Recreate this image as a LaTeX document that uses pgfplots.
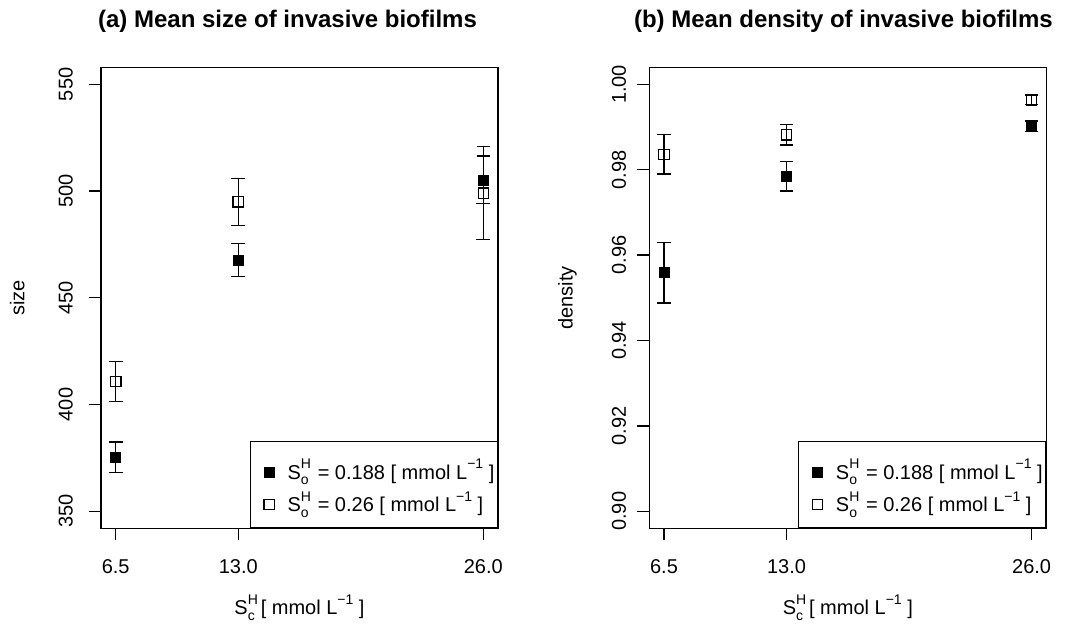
\documentclass[border=0pt]{standalone}
\usepackage{fontspec}
\setmainfont{Liberation Sans}
\usepackage{pgfplots}
\pgfplotsset{compat=1.18}

\newcommand{\sps}[1]{{\fontsize{7}{8}\selectfont #1}}
\newcommand{\SHx}[1]{S\rlap{\raisebox{5.3pt}{\sps{H}}}\raisebox{-2.8pt}{\sps{#1}}}
\newcommand{\Linv}{L\raisebox{5.3pt}{\sps{−1}}}

\pgfplotsset{
  rstyle/.style={
    scale only axis, width=198.5pt, height=230.5pt,
    axis line style={line width=0.65pt, black},
    tick align=outside, tick pos=left, major tick length=6pt,
    tick style={line width=0.65pt, black},
    xmin=5.72, xmax=26.78, xtick={6.5,13,26}, xticklabels={6.5,13.0,26.0},
    ticklabel style={font=\fontsize{10}{12}\selectfont},
    xticklabel style={anchor=base}, xticklabel shift=16.5pt,
    yticklabel style={rotate=90, anchor=base},
    xlabel style={at={(axis description cs:0.5,0)}, anchor=base, yshift=-43.3pt, font=\fontsize{10}{12}\selectfont},
    ylabel style={at={(axis description cs:-0.193,0.5)}, anchor=base, font=\fontsize{10}{12}\selectfont},
    title style={at={(axis description cs:0.5,1)}, anchor=base, yshift=14pt, font=\bfseries\fontsize{12}{14}\selectfont},
    legend style={at={(1,0)}, anchor=south east, draw=black, line width=0.65pt, fill=white,
      inner xsep=1.5pt, inner ysep=2pt, row sep=0pt, column sep=6.6pt,
      font=\fontsize{10}{12}\selectfont,
      nodes={inner sep=0pt, anchor=base west, text depth=6pt}},
    legend image code/.code={\path (0pt,0pt); \draw[##1] plot coordinates {(7.7pt,3.6pt)};},
    filled/.style={only marks, mark=square*, mark size=2.5pt, mark options={fill=black, draw=black, line width=0.3pt},
      error bars/.cd, y dir=both, y explicit,
      error bar style={line width=0.6pt, black},
      error mark options={rotate=90, mark size=3.4pt, line width=0.6pt, black}},
    open/.style={only marks, mark=square, mark size=2.6pt, mark options={draw=black, line width=0.6pt},
      error bars/.cd, y dir=both, y explicit,
      error bar style={line width=0.6pt, black},
      error mark options={rotate=90, mark size=3.4pt, line width=0.6pt, black}},
  }
}

\begin{document}
\begin{tikzpicture}
\path[use as bounding box] (0pt,0pt) rectangle (534pt,312pt);

\begin{axis}[rstyle, at={(50.5pt,47.85pt)}, anchor=south west,
  ymin=342, ymax=558, ytick={350,400,450,500,550}, yticklabels={350,400,450,500,550},
  yticklabel shift=8.2pt,
  title={(a) Mean size of invasive biofilms}, title style={xshift=-6pt},
  xlabel={\SHx{c}\hspace{3pt}[ mmol \Linv\ ]}, ylabel={size}]
\addplot[filled] coordinates {
  (6.5,375.3) +- (0,7.1)
  (13,467.7) +- (0,7.8)
  (26,505.2) +- (0,11.2)
};
\addlegendentry[text height=16.9pt]{\SHx{o}\hspace{4.5pt}= 0.188 [ mmol \Linv\ ]}
\addplot[open] coordinates {
  (6.5,410.7) +- (0,9.3)
  (13,495.0) +- (0,11.0)
  (26,499.0) +- (0,21.8)
};
\addlegendentry[text height=10.2pt]{\SHx{o}\hspace{4.5pt}= 0.26 [ mmol \Linv\ ]}
\end{axis}

\begin{axis}[rstyle, at={(324.65pt,47.85pt)}, anchor=south west,
  ymin=0.896, ymax=1.004, ytick={0.90,0.92,0.94,0.96,0.98,1.00},
  yticklabels={0.90,0.92,0.94,0.96,0.98,1.00},
  yticklabel shift=5.7pt,
  title={(b) Mean density of invasive biofilms}, title style={xshift=-2.2pt},
  xlabel={\SHx{c}\hspace{3pt}[ mmol \Linv\ ]}, ylabel={density}]
\addplot[filled] coordinates {
  (6.5,0.9559) +- (0,0.0071)
  (13,0.9785) +- (0,0.0035)
  (26,0.9902) +- (0,0.0012)
};
\addlegendentry[text height=16.9pt]{\SHx{o}\hspace{4.5pt}= 0.188 [ mmol \Linv\ ]}
\addplot[open] coordinates {
  (6.5,0.9836) +- (0,0.0046)
  (13,0.9882) +- (0,0.0024)
  (26,0.9964) +- (0,0.0011)
};
\addlegendentry[text height=10.2pt]{\SHx{o}\hspace{4.5pt}= 0.26 [ mmol \Linv\ ]}
\end{axis}
\end{tikzpicture}
\end{document}
